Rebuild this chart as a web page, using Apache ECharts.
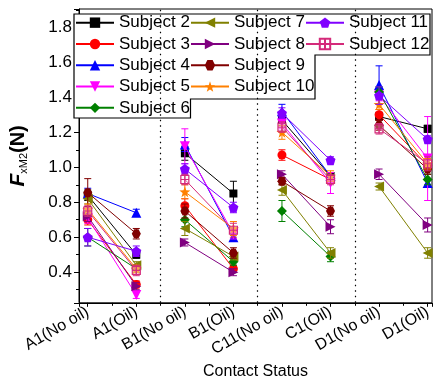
<!DOCTYPE html>
<html>
<head>
<meta charset="utf-8">
<script src="https://cdn.jsdelivr.net/npm/echarts@6/dist/echarts.min.js"></script>
<style>
  html, body { margin: 0; background: #fff; }
  #main { width: 444px; height: 385px; }
</style>
</head>
<body>
<div id="main"></div>
<script>
// 类别（接触状态）
const categories = ['A1(No oil)', 'A1(Oil)', 'B1(No oil)', 'B1(Oil)', 'C11(No oil)', 'C1(Oil)', 'D1(No oil)', 'D1(Oil)'];
const subjectNames = ['Subject 2', 'Subject 3', 'Subject 4', 'Subject 5', 'Subject 6', 'Subject 7',
  'Subject 8', 'Subject 9', 'Subject 10', 'Subject 11', 'Subject 12'];

// 各受试者均值与误差
const s2Vals = [0.84, 0.50, 1.08, 0.85, 1.27, 0.95, 1.29, 1.22];
const s2Errs = [0.03, 0.02, 0.04, 0.07, 0.03, 0.02, 0.02, 0.02];
const s3Vals = [0.70, 0.33, 0.78, 0.42, 1.07, 0.93, 1.30, 1.01];
const s3Errs = [0.03, 0.02, 0.04, 0.02, 0.03, 0.02, 0.03, 0.03];
const s4Vals = [0.85, 0.74, 1.13, 0.60, 1.32, 0.95, 1.47, 0.91];
const s4Errs = [0.03, 0.02, 0.04, 0.02, 0.04, 0.02, 0.11, 0.02];
const s5Vals = [0.71, 0.27, 1.12, 0.62, 1.25, 0.91, 1.41, 1.05];
const s5Errs = [0.03, 0.02, 0.10, 0.03, 0.03, 0.06, 0.03, 0.24];
const s6Vals = [0.60, 0.42, 0.70, 0.46, 0.75, 0.49, 1.43, 0.93];
const s6Errs = [0.05, 0.02, 0.04, 0.02, 0.06, 0.03, 0.03, 0.03];
const s7Vals = [0.82, 0.44, 0.65, 0.49, 0.87, 0.51, 0.89, 0.51];
const s7Errs = [0.03, 0.02, 0.04, 0.02, 0.03, 0.03, 0.02, 0.03];
const s8Vals = [0.72, 0.32, 0.57, 0.40, 0.96, 0.66, 0.96, 0.67];
const s8Errs = [0.03, 0.02, 0.02, 0.02, 0.02, 0.04, 0.03, 0.04];
const s9Vals = [0.855, 0.62, 0.75, 0.51, 0.92, 0.75, 1.24, 0.99];
const s9Errs = [0.08, 0.03, 0.04, 0.03, 0.02, 0.03, 0.03, 0.03];
const s10Vals = [0.76, 0.42, 0.86, 0.65, 1.20, 0.95, 1.36, 1.02];
const s10Errs = [0.03, 0.02, 0.04, 0.04, 0.04, 0.03, 0.03, 0.03];
const s11Vals = [0.60, 0.52, 0.99, 0.77, 1.31, 1.04, 1.41, 1.16];
const s11Errs = [0.05, 0.03, 0.03, 0.03, 0.03, 0.02, 0.05, 0.02];
const s12Vals = [0.75, 0.41, 0.93, 0.64, 1.23, 0.93, 1.22, 1.02];
const s12Errs = [0.03, 0.03, 0.03, 0.04, 0.03, 0.03, 0.03, 0.04];

const allVals = [s2Vals, s3Vals, s4Vals, s5Vals, s6Vals, s7Vals, s8Vals, s9Vals, s10Vals, s11Vals, s12Vals];
const allErrs = [s2Errs, s3Errs, s4Errs, s5Errs, s6Errs, s7Errs, s8Errs, s9Errs, s10Errs, s11Errs, s12Errs];

// 样式
const colors = ['#000000', '#FF0000', '#0000FF', '#FF00FF', '#008000', '#808000',
  '#800080', '#800000', '#FF8000', '#8000FF', '#D42A7A'];
const PENTAGON = 'path://M0,-10L9.51,-3.09L5.88,8.09L-5.88,8.09L-9.51,-3.09Z';
const HEXAGON = 'path://M-5,-8.66L5,-8.66L10,0L5,8.66L-5,8.66L-10,0Z';
const STAR = 'path://M0,-10L2.35,-3.24L9.51,-3.09L3.8,1.24L5.88,8.09L0,4L-5.88,8.09L-3.8,1.24L-9.51,-3.09L-2.35,-3.24Z';
const BOXCROSS = 'path://M0,0H10V10H0Z M5,0V10 M0,5H10';
const symbols = ['rect', 'circle', 'triangle', 'triangle', 'diamond', 'triangle',
  'triangle', HEXAGON, STAR, PENTAGON, BOXCROSS];
const rotations = [0, 0, 0, 180, 0, 90, -90, 0, 0, 0, 0];
const sizes = [8, 9, 10, 10, 10, 10, 10, 9, 11, 10, 8];
const FONT = 'Liberation Sans, Arial';

let series = [];
allVals.forEach((vals, i) => {
  const color = colors[i];
  // 误差棒
  series.push({
    type: 'custom',
    name: 'err' + i,
    data: vals.map((v, k) => [k + 1, v - allErrs[i][k], v + allErrs[i][k]]),
    encode: { x: 0, y: [1, 2] },
    z: 2 + i * 0.01,
    silent: true,
    renderItem: function (params, api) {
      const x = api.value(0);
      const top = api.coord([x, api.value(2)]);
      const bot = api.coord([x, api.value(1)]);
      const w = 3.5;
      const st = { stroke: color, lineWidth: 1 };
      return {
        type: 'group',
        children: [
          { type: 'line', shape: { x1: top[0], y1: top[1], x2: bot[0], y2: bot[1] }, style: st },
          { type: 'line', shape: { x1: top[0] - w, y1: top[1], x2: top[0] + w, y2: top[1] }, style: st },
          { type: 'line', shape: { x1: bot[0] - w, y1: bot[1], x2: bot[0] + w, y2: bot[1] }, style: st }
        ]
      };
    }
  });
  // 每组两个点连线
  for (let p = 0; p < 4; p++) {
    const isBox = i === 10;
    series.push({
      type: 'line',
      name: subjectNames[i],
      data: [[p * 2 + 1, vals[p * 2]], [p * 2 + 2, vals[p * 2 + 1]]],
      symbol: symbols[i],
      symbolRotate: rotations[i],
      symbolSize: sizes[i],
      showSymbol: true,
      z: 2 + i * 0.01 + 0.005,
      lineStyle: { color: color, width: 1 },
      itemStyle: isBox
        ? { color: 'rgba(255,255,255,0.3)', borderColor: color, borderWidth: 1.2 }
        : { color: color, borderWidth: 0 },
      emphasis: { disabled: true },
      animation: false
    });
  }
});

// 分隔虚线
series.push({
  type: 'line',
  name: 'sep',
  data: [],
  markLine: {
    silent: true,
    symbol: 'none',
    label: { show: false },
    lineStyle: { color: '#000', type: [1.5, 4], width: 1.2 },
    data: [{ xAxis: 2.5 }, { xAxis: 4.5 }, { xAxis: 6.5 }]
  }
});

const legendText = { color: '#000', fontSize: 17, fontFamily: FONT, lineHeight: 21.3 };
function makeLegend(names, left) {
  return {
    data: names,
    orient: 'vertical',
    left: left,
    top: 12,
    padding: 0,
    itemGap: 0,
    itemWidth: 38,
    itemHeight: 13,
    selectedMode: false,
    textStyle: legendText,
    z: 5
  };
}

const chart = echarts.init(document.getElementById('main'), null, { renderer: 'canvas' });
chart.setOption({
  animation: false,
  backgroundColor: '#fff',
  grid: { left: 70, right: 12, top: 9, bottom: 82, show: true, borderColor: '#000', borderWidth: 1 },
  xAxis: {
    type: 'value',
    min: 0.82,
    max: 8.09,
    splitNumber: 7,
    name: 'Contact Status',
    nameLocation: 'middle',
    nameGap: 54,
    nameTextStyle: { color: '#000', fontSize: 16, fontFamily: FONT },
    axisLine: { show: true, lineStyle: { color: '#000', width: 1 } },
    axisTick: { show: true, inside: false, length: 4, lineStyle: { color: '#000' } },
    minorTick: { show: true, splitNumber: 2, length: 3, lineStyle: { color: '#000' } },
    splitLine: { show: false },
    axisLabel: {
      color: '#000',
      fontSize: 16,
      fontFamily: FONT,
      rotate: 30,
      margin: 8,
      showMinLabel: false,
      showMaxLabel: false,
      formatter: v => (Number.isInteger(v) && v >= 1 && v <= 8) ? categories[v - 1] : ''
    }
  },
  yAxis: {
    type: 'value',
    min: 0.225,
    max: 1.905,
    splitNumber: 8,
    name: '{f|F}{s|xM2}{n|(N)}',
    nameLocation: 'middle',
    nameRotate: 90,
    nameGap: 50,
    nameTextStyle: {
      color: '#000',
      rich: {
        f: { fontSize: 21, fontStyle: 'italic', fontWeight: 'bold', fontFamily: FONT, color: '#000' },
        s: { fontSize: 11, fontFamily: FONT, color: '#000', verticalAlign: 'bottom', padding: [8, 0, 0, 0] },
        n: { fontSize: 20, fontWeight: 'bold', fontFamily: FONT, color: '#000' }
      }
    },
    axisLine: { show: true, lineStyle: { color: '#000', width: 1 } },
    axisTick: { show: true, inside: false, length: 5, lineStyle: { color: '#000' } },
    minorTick: { show: true, splitNumber: 2, length: 3, lineStyle: { color: '#000' } },
    splitLine: { show: false },
    axisLabel: {
      color: '#000',
      fontSize: 17,
      fontFamily: FONT,
      margin: 7,
      showMinLabel: false,
      showMaxLabel: false,
      formatter: v => v.toFixed(1)
    }
  },
  legend: [
    makeLegend(subjectNames.slice(0, 5), 75),
    makeLegend(subjectNames.slice(5, 9), 190),
    makeLegend(subjectNames.slice(9, 11), 305)
  ],
  graphic: [{
    type: 'polygon',
    z: 3,
    shape: {
      points: [[74, 14], [430, 14], [430, 55], [315, 55], [315, 99], [190.5, 99], [190.5, 118], [74, 118]]
    },
    style: { fill: '#fff', stroke: '#000', lineWidth: 1.2 }
  }],
  series: series
});
</script>
</body>
</html>
